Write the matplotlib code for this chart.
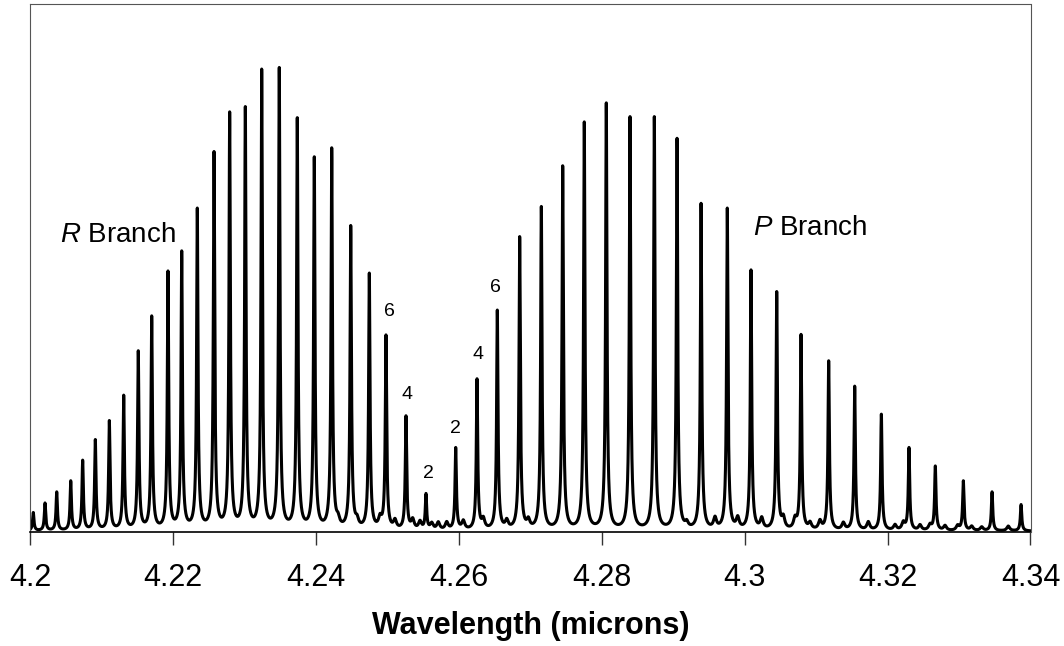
import numpy as np
import matplotlib
matplotlib.use("Agg")
import matplotlib.pyplot as plt

# CO2 asymmetric stretch band
# R branch line centres (microns) and peak heights (arb. units, axis 0-100)
r_branch_wl = [4.20046, 4.20210, 4.20374, 4.20570, 4.20737, 4.20914, 4.21110,
               4.21311, 4.21515, 4.21703, 4.21931, 4.22123, 4.22341, 4.22575,
               4.22794, 4.23013, 4.23242, 4.23488, 4.23740, 4.23978, 4.24222,
               4.24488, 4.24748, 4.24981, 4.25261, 4.25541]
r_branch_height = [3.7, 5.5, 7.6, 9.7, 13.6, 17.5, 21.1, 25.9, 34.3, 40.9, 49.4,
                   53.2, 61.3, 72.0, 79.5, 80.5, 87.6, 87.9, 78.4, 71.0, 72.7,
                   58.0, 49.0, 37.3, 22.0, 7.3]

# P branch
p_branch_wl = [4.25957, 4.26255, 4.26539, 4.26852, 4.27155, 4.27454, 4.27756,
               4.28064, 4.28396, 4.28736, 4.29054, 4.29390, 4.29757, 4.30089,
               4.30449, 4.30789, 4.31176, 4.31540, 4.31913, 4.32300, 4.32668,
               4.33060, 4.33462, 4.33868]
p_branch_height = [16.0, 29.0, 42.0, 55.9, 61.6, 69.3, 77.6, 81.2, 78.6, 78.6,
                   74.5, 62.2, 61.3, 49.6, 45.5, 37.4, 32.4, 27.6, 22.3, 16.0,
                   12.5, 9.7, 7.6, 5.2]

# weak lines sitting in the valleys
weak_wl = [4.24310, 4.24576, 4.24898, 4.25107, 4.25355, 4.25457, 4.25621,
           4.25713, 4.25831, 4.26063, 4.26343, 4.26671, 4.26973, 4.29189,
           4.29585, 4.29903, 4.30239, 4.30541, 4.30705, 4.30915, 4.31054,
           4.31381, 4.31730, 4.32104, 4.32220, 4.32454, 4.32594, 4.32804,
           4.32981, 4.33177, 4.33317, 4.33689]
weak_height = [1.3, 1.3, 1.8, 1.6, 1.8, 1.5, 1.2, 1.4, 1.4, 1.6, 1.8, 1.5, 1.5,
               1.0, 2.0, 2.0, 2.0, 2.0, 1.8, 1.2, 1.6, 1.3, 1.5, 1.0, 1.4,
               1.0, 1.0, 0.9, 0.9, 0.8, 0.7, 0.9]
baseline = 0.15

tick_values = [4.2, 4.22, 4.24, 4.26, 4.28, 4.3, 4.32, 4.34]
tick_labels = ["4.2", "4.22", "4.24", "4.26", "4.28", "4.3", "4.32", "4.34"]

# line numbers next to the band centre: (label, wavelength, height)
j_labels = [("6", 4.25024, 40.9), ("4", 4.25275, 25.1), ("2", 4.25569, 10.3),
            ("2", 4.25951, 18.7), ("4", 4.26273, 32.7), ("6", 4.26507, 45.4)]

# 1. line shape: narrow core plus a broader foot
G_CORE = 1.1e-4
G_FOOT = 3.5e-4
FOOT = 0.06
G_WEAK = 2.4e-4


def line_shape(d, g_core=G_CORE):
    return (1 - FOOT) / (1 + (d / g_core) ** 2) + FOOT / (1 + (d / G_FOOT) ** 2)


# 2. amplitudes so that the summed spectrum hits the read peak heights
centres = np.array(r_branch_wl + p_branch_wl)
targets = np.array(r_branch_height + p_branch_height)
weak_c = np.array(weak_wl)
weak_a = np.array(weak_height)

M = line_shape(centres[:, None] - centres[None, :])
weak_at_centres = (weak_a[None, :] *
                   line_shape(centres[:, None] - weak_c[None, :], G_WEAK)).sum(axis=1)
amps = np.linalg.solve(M, targets - baseline - weak_at_centres)

# 3. build the spectrum
wl = np.linspace(4.2, 4.34, 28001)
spec = np.full_like(wl, baseline)
for c, a in zip(centres, amps):
    spec += a * line_shape(wl - c)
for c, a in zip(weak_c, weak_a):
    spec += a * line_shape(wl - c, G_WEAK)

# 4. plot
plt.rcParams['font.family'] = ['Liberation Sans', 'DejaVu Sans']
plt.rcParams['mathtext.fontset'] = 'custom'
plt.rcParams['mathtext.it'] = 'Liberation Sans:italic'
plt.rcParams['mathtext.rm'] = 'Liberation Sans'

fig = plt.figure(figsize=(10.64, 6.46), dpi=100)
ax = fig.add_axes([30 / 1064, 1 - 532 / 646, 1000.5 / 1064, 528.5 / 646])

ax.plot(wl, spec, color='black', lw=2.2, solid_joinstyle='round')

ax.set_xlim(4.2, 4.34)
ax.set_ylim(0, 100)
ax.set_xticks(tick_values)
ax.set_xticklabels(tick_labels, fontsize=22)
ax.set_yticks([])
ax.tick_params(axis='x', direction='out', length=9, width=1, pad=13, color='#333333')

for side in ['top', 'left', 'right']:
    ax.spines[side].set_color('#555555')
    ax.spines[side].set_linewidth(0.8)
ax.spines['bottom'].set_color('black')
ax.spines['bottom'].set_linewidth(1.2)

ax.set_xlabel('Wavelength (microns)', fontsize=22, fontweight='bold')
ax.xaxis.set_label_coords(0.5, -0.15)

ax.text(4.2042, 54.9, r'$\mathit{R}$ Branch', fontsize=20, ha='left', va='baseline')
ax.text(4.3012, 56.2, r'$\mathit{P}$ Branch', fontsize=20, ha='left', va='baseline')
for lab, x, y in j_labels:
    ax.text(x, y, lab, fontsize=14, ha='center', va='baseline')

fig.savefig('out.png', dpi=100)
